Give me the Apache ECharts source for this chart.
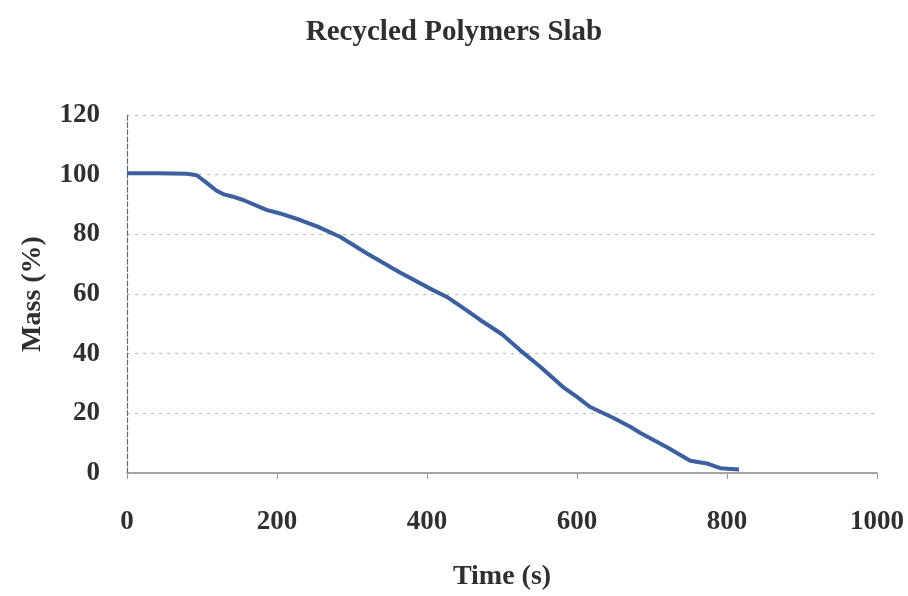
<!DOCTYPE html>
<html>
<head>
<meta charset="utf-8">
<script src="https://cdn.jsdelivr.net/npm/echarts@6/dist/echarts.min.js"></script>
<style>
  html, body { margin: 0; padding: 0; background: #fff; }
  #chart { width: 908px; height: 596px; }
</style>
</head>
<body>
<div id="chart"></div>
<script>
// Mass loss of the recycled polymer slab over time
const timeSeconds = [0, 20, 40, 60, 80, 93, 105, 119, 128, 140, 155, 186, 204, 231, 255, 284, 320, 364, 408, 426, 453, 471, 500, 524, 551, 581, 600, 617, 648, 671, 684, 720, 751, 773, 791, 816];
const massPercent = [100.5, 100.5, 100.5, 100.4, 100.3, 99.8, 97.5, 94.7, 93.5, 92.7, 91.5, 88.2, 87.0, 84.8, 82.5, 79.2, 73.6, 67.2, 61.3, 59.1, 54.5, 51.3, 46.5, 41.2, 35.6, 28.9, 25.5, 22.2, 18.5, 15.5, 13.5, 8.6, 4.1, 3.2, 1.6, 1.2];
const xTicks = { min: 0, max: 1000, interval: 200 };
const yTicks = { min: 0, max: 120, interval: 20 };

const points = timeSeconds.map((t, i) => [t, massPercent[i]]);
const serif = '"Liberation Serif", "DejaVu Serif", serif';
const ink = '#2f2f2f';

const chart = echarts.init(document.getElementById('chart'));
chart.setOption({
  backgroundColor: '#ffffff',
  animation: false,
  title: {
    text: 'Recycled Polymers Slab',
    left: 'center',
    top: 13,
    textStyle: { fontFamily: serif, fontWeight: 'bold', fontSize: 29, color: ink }
  },
  grid: { left: 127, right: 31, top: 115, bottom: 123 },
  xAxis: {
    type: 'value',
    min: xTicks.min, max: xTicks.max, interval: xTicks.interval,
    name: 'Time (s)',
    nameLocation: 'middle',
    nameGap: 90,
    nameTextStyle: { fontFamily: serif, fontWeight: 'bold', fontSize: 28, color: ink },
    axisLine: { lineStyle: { color: '#8a8a8a', width: 1.5 } },
    axisTick: { show: true, length: 6, lineStyle: { color: '#999' } },
    axisLabel: {
      margin: 36, fontFamily: serif, fontWeight: 'bold', fontSize: 27, color: ink,
      formatter: v => String(v)
    },
    splitLine: { show: false }
  },
  yAxis: {
    type: 'value',
    min: yTicks.min, max: yTicks.max, interval: yTicks.interval,
    name: 'Mass (%)',
    nameLocation: 'middle',
    nameGap: 80,
    nameRotate: 90,
    nameTextStyle: { fontFamily: serif, fontWeight: 'bold', fontSize: 28, color: ink },
    axisLine: { show: true, lineStyle: { color: '#666', width: 1.2, type: 'dashed' } },
    axisTick: { show: false },
    axisLabel: { margin: 27, fontFamily: serif, fontWeight: 'bold', fontSize: 27, color: ink },
    splitLine: { show: true, lineStyle: { color: '#b8b8b8', width: 1, type: [3, 5] } }
  },
  series: [{
    type: 'line',
    data: points,
    showSymbol: false,
    smooth: false,
    lineStyle: { color: '#3b5f9f', width: 4 },
    itemStyle: { color: '#3b5f9f' }
  }]
});
</script>
</body>
</html>
